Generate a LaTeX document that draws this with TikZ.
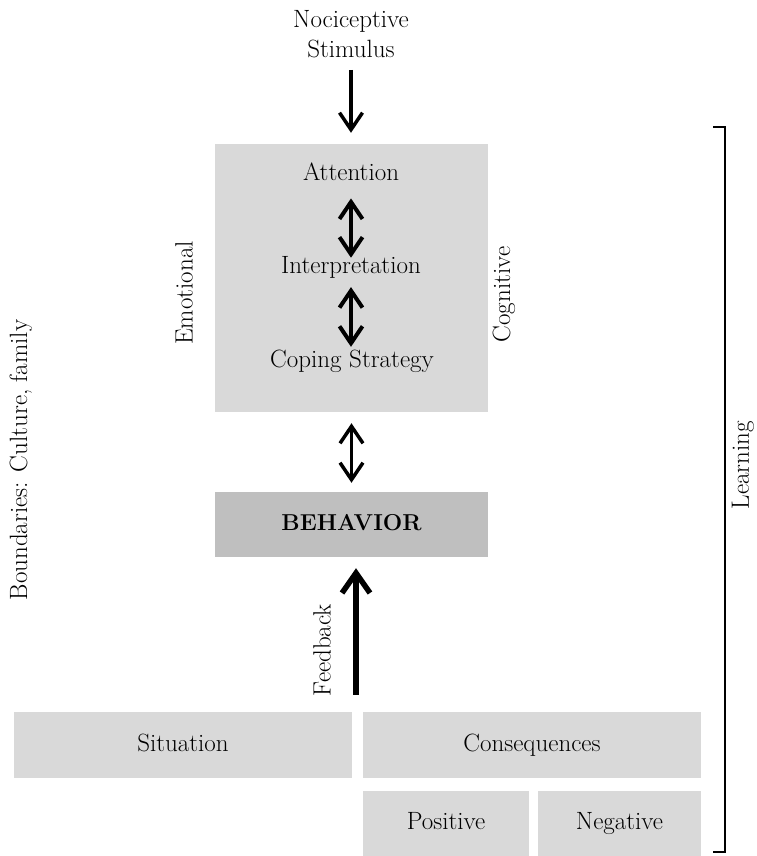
\documentclass[tikz,border=0pt]{standalone}
\usepackage{fontspec}
\usetikzlibrary{arrows.meta,calc}
\definecolor{boxgray}{HTML}{D9D9D9}
\definecolor{behavgray}{HTML}{BFBFBF}
\begin{document}
\begin{tikzpicture}[x=1pt,y=-1pt,
  txt/.style={font=\fontsize{25}{30}\selectfont, inner sep=0pt},
  graybox/.style={fill=boxgray, draw=none, inner sep=0pt, font=\fontsize{25}{30}\selectfont, text height=17pt, text depth=5pt},
  barb/.style={Straight Barb[length=17pt,width=23pt,line width=#1]},
  onearr/.style={line width=3.5pt, -{Straight Barb[length=17pt,width=23pt,line width=3.5pt]}},
  dblarr/.style={line width=#1, {Straight Barb[length=17pt,width=23pt,line width=#1]}-{Straight Barb[length=17pt,width=23pt,line width=#1]}},
  fbarr/.style={line width=5.5pt, -{Straight Barb[length=20pt,width=28pt,line width=5.5pt]}},
  bracketline/.style={line width=2pt}
]
\useasboundingbox (0,0) rectangle (756,856);

% boxes
\node[graybox, minimum width=273pt, minimum height=268pt] (mainbox) at (351.5,278) {};
\node[graybox, fill=behavgray, minimum width=273pt, minimum height=65pt, font=\fontsize{23}{28}\selectfont\bfseries] (behav) at (351.5,524.5) {BEHAVIOR};
\node[graybox, minimum width=338pt, minimum height=66pt] (situation) at (183,745) {Situation};
\node[graybox, minimum width=338pt, minimum height=66pt] (conseq) at (532,745) {Consequences};
\node[graybox, minimum width=166pt, minimum height=65pt] (positive) at (446,823.5) {Positive};
\node[graybox, minimum width=163pt, minimum height=65pt] (negative) at (619.5,823.5) {Negative};

% texts
\node[txt, align=center] (stim) at (351,34) {Nociceptive\\Stimulus};
\node[txt, anchor=base] (attn) at (351,180) {Attention};
\node[txt, anchor=base] (interp) at (351,273) {Interpretation};
\node[txt, anchor=base] (coping) at (352,367) {Coping Strategy};
\node[txt, rotate=90] (emot) at (184,293) {Emotional};
\node[txt, rotate=90] (cogn) at (504,294.5) {Cognitive};
\node[txt, rotate=90] (bound) at (21,460) {Boundaries: Culture, family};
\node[txt, rotate=90] (feed) at (322,650) {Feedback};
\node[txt, rotate=90] (learn) at (743,465) {Learning};

% arrows
\draw[onearr, shorten <=12pt, shorten >=11pt] (stim.south) -- (stim.south |- mainbox.north);
\draw[dblarr=4pt, shorten <=18pt, shorten >=-2pt] (attn.south) -- (attn.south |- interp.north);
\draw[dblarr=4pt, shorten <=9pt, shorten >=2.5pt] (interp.south) -- (interp.south |- coping.north);
\draw[dblarr=3.5pt, shorten <=11pt, shorten >=9pt] (mainbox.south) -- (mainbox.south |- behav.north);
\coordinate (fb) at ($(situation.north east)!0.5!(conseq.north west)$);
\draw[fbarr, shorten <=17pt, shorten >=11pt] ([xshift=-1.5pt]fb) -- ([xshift=-1.5pt]fb |- behav.south);

% learning bracket
\coordinate (brtop) at (725,127);
\coordinate (brbot) at (725,852);
\draw[bracketline] ([xshift=-12pt]brtop) -- (brtop) -- (brbot) -- ([xshift=-12pt]brbot);
\end{tikzpicture}
\end{document}
